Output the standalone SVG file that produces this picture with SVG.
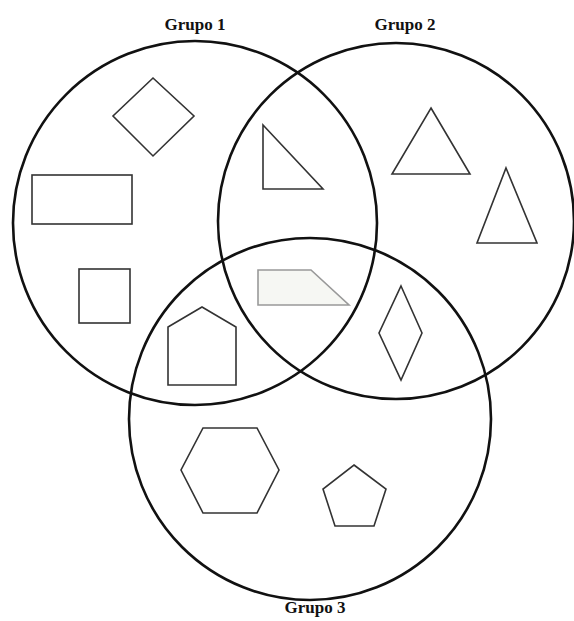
<svg xmlns="http://www.w3.org/2000/svg" width="574" height="621" viewBox="0 0 574 621">
<style>
.set{fill:none;stroke:#111;stroke-width:2.6}
.shp{fill:none;stroke:#333;stroke-width:1.6;stroke-linejoin:miter}
.lbl{font-family:"Liberation Serif","Times New Roman",serif;font-weight:bold;font-size:17px;fill:#111;text-anchor:middle}
</style>
<rect width="574" height="621" fill="#fff"/>
<g id="grupo1">
<circle class="set" cx="195" cy="223" r="182"/>
<text class="lbl" x="195" y="30">Grupo 1</text>
</g>
<g id="grupo2">
<circle class="set" cx="396" cy="221" r="178"/>
<text class="lbl" x="405" y="30">Grupo 2</text>
</g>
<g id="grupo3">
<circle class="set" cx="310" cy="419" r="181"/>
<text class="lbl" x="315" y="613">Grupo 3</text>
</g>
<g id="rombo1"><polygon class="shp" points="153,78 194,116 153,156 113,116"/></g>
<g id="rectangulo"><rect class="shp" x="32" y="175" width="100" height="49"/></g>
<g id="cuadrado"><rect class="shp" x="79" y="269" width="51" height="54"/></g>
<g id="triangulo-rect"><polygon class="shp" points="263,125 263,189 323,189"/></g>
<g id="trapecio"><polygon points="258,270 311,270 349,305 258,305" fill="#f6f7f3" stroke="#999" stroke-width="1.6"/></g>
<g id="casa"><polygon class="shp" points="202,307 236,327 236,385 168,385 168,327"/></g>
<g id="rombo2"><polygon class="shp" points="401,286 422,333 401,380 379,333"/></g>
<g id="triangulo1"><polygon class="shp" points="431,108 470,174 392,174"/></g>
<g id="triangulo2"><polygon class="shp" points="506,168 537,243 477,243"/></g>
<g id="hexagono"><polygon class="shp" points="203,428 257,428 279,470 257,513 203,513 181,470"/></g>
<g id="pentagono"><polygon class="shp" points="354,465 386,489 374,526 335,526 323,489"/></g>
</svg>
